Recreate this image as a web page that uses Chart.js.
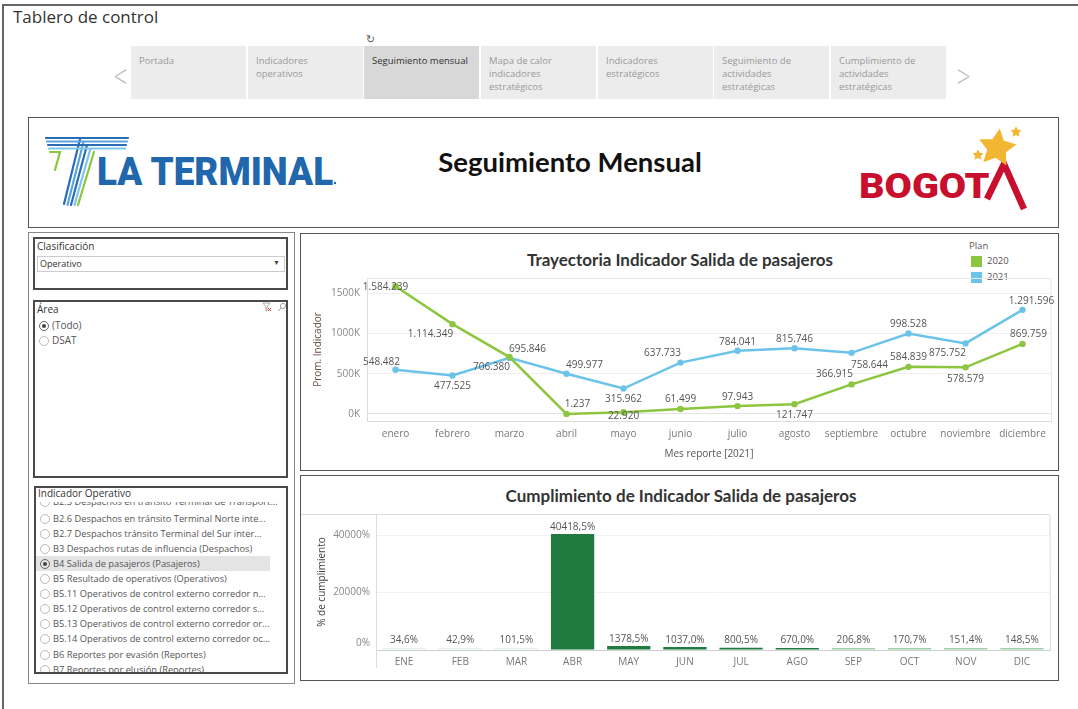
<!DOCTYPE html>
<html><head><meta charset="utf-8">
<script src="https://cdn.jsdelivr.net/npm/chart.js@4/dist/chart.umd.min.js"></script>
<style>
html,body{margin:0;padding:0;background:#fff;width:1078px;height:709px;overflow:hidden;font-family:"Open Sans",sans-serif;}
.abs{position:absolute;}
#frameTop{left:2px;top:4px;width:1076px;height:0;border-top:2px solid #666;}
#frameLeft{left:2px;top:4px;width:0;height:705px;border-left:2px solid #666;}
#pageTitle{left:13px;top:5px;font-size:17px;color:#333;}
.tab{position:absolute;top:46px;height:53px;width:115px;background:#ececec;font-size:9.5px;color:#9a9a9a;line-height:13px;box-sizing:border-box;padding:8px 0 0 8px;}
.tab.sel{background:#d8d8d8;color:#333;}
.arrow{position:absolute;top:58px;font-size:30px;color:#bbb;font-weight:100;font-family:"DejaVu Sans";transform:scaleX(0.6);}
.box{position:absolute;box-sizing:border-box;}
.lbl{position:absolute;font-size:10px;color:#333;white-space:nowrap;}
.item{position:absolute;left:0;height:15px;width:234px;font-size:9.3px;color:#555;white-space:nowrap;line-height:15px;}
.item .r{position:absolute;left:4px;top:3px;width:8px;height:8px;border:1px solid #bbb;border-radius:50%;}
.item .t{position:absolute;left:17px;top:0;}
.item.sel{background:#e4e4e4;}
.item.sel .r{border-color:#666;}
.item.sel .r::after{content:"";position:absolute;left:2px;top:2px;width:4px;height:4px;border-radius:50%;background:#444;}
.ctitle{position:absolute;font-family:Lato,sans-serif;font-weight:700;color:#333;white-space:nowrap;}
</style></head>
<body>
<div id="frameTop" class="abs"></div>
<div id="frameLeft" class="abs"></div>
<div id="pageTitle" class="abs">Tablero de control</div>
<div class="abs" style="left:366px;top:33px;font-size:11px;color:#666;font-family:'DejaVu Sans';">↻</div>

<div class="arrow" style="left:108px;">&lt;</div>
<div class="arrow" style="left:951px;">&gt;</div>
<div class="tab" style="left:131px;">Portada</div>
<div class="tab" style="left:248px;">Indicadores<br>operativos</div>
<div class="tab sel" style="left:364px;">Seguimiento mensual</div>
<div class="tab" style="left:481px;">Mapa de calor<br>indicadores<br>estratégicos</div>
<div class="tab" style="left:598px;">Indicadores<br>estratégicos</div>
<div class="tab" style="left:714px;">Seguimiento de<br>actividades<br>estratégicas</div>
<div class="tab" style="left:831px;">Cumplimiento de<br>actividades<br>estratégicas</div>

<!-- Header -->
<div class="box" style="left:28px;top:117px;width:1031px;height:111px;border:1px solid #555;"></div>
<svg class="abs" style="left:0;top:0;" width="1078" height="240">
  <g fill="none" stroke-width="2.2" stroke-linecap="round">
    <path d="M46 138 L128 138 M80 139 L64 204" stroke="#2a6db5"/>
    <path d="M47 141.5 L127 141.5 M83.5 142 L67.5 205" stroke="#5aa6dc"/>
    <path d="M48 145 L126 145 M87 145 L71 205" stroke="#2a6db5"/>
    <path d="M49 148.5 L125 148.5 M90.5 148.5 L74.5 205" stroke="#7cc6ea"/>
    <path d="M50 152 L60 152 L55 170 M94 152 L78 205" stroke="#8cc63f"/>
  </g>
  <text x="97" y="185" font-family="Roboto,sans-serif" font-weight="900" font-size="38" fill="#2067ad" transform="translate(97 0) scale(0.97 1) translate(-97 0)">LA TERMINAL</text>
  <circle cx="335" cy="183" r="1.2" fill="#2067ad"/>
  <text x="570" y="172" text-anchor="middle" font-family="Lato,sans-serif" font-weight="700" font-size="27.5" fill="#111">Seguimiento Mensual</text>
  <text x="859" y="198" font-family="Roboto,sans-serif" font-weight="900" font-size="36" fill="#c8102e" transform="translate(859 0) scale(1.1 1) translate(-859 0)">BOGOT</text>
  <path d="M987 199 L1004 164 L1024 209" fill="none" stroke="#c8102e" stroke-width="6.5" stroke-linejoin="miter"/>
  <path d="M0,-18 L5.3,-7.3 L17.1,-5.6 L8.6,2.8 L10.6,14.6 L0,9 L-10.6,14.6 L-8.6,2.8 L-17.1,-5.6 L-5.3,-7.3 Z" fill="#f2b633" transform="translate(997 148) rotate(8) scale(1.1)"/>
  <path d="M0,-18 L5.3,-7.3 L17.1,-5.6 L8.6,2.8 L10.6,14.6 L0,9 L-10.6,14.6 L-8.6,2.8 L-17.1,-5.6 L-5.3,-7.3 Z" fill="#f2b633" transform="translate(978 155) scale(0.32)"/>
  <path d="M0,-18 L5.3,-7.3 L17.1,-5.6 L8.6,2.8 L10.6,14.6 L0,9 L-10.6,14.6 L-8.6,2.8 L-17.1,-5.6 L-5.3,-7.3 Z" fill="#f2b633" transform="translate(1016 132) scale(0.32)"/>
</svg>

<!-- Left column -->
<div class="box" style="left:28px;top:232px;width:267px;height:452px;border:1px solid #888;"></div>
<div class="box" style="left:33px;top:237px;width:255px;height:53px;border:2px solid #4a4a4a;"></div>
<div class="lbl" style="left:37px;top:239px;">Clasificación</div>
<div class="box" style="left:37px;top:256px;width:248px;height:16px;border:1px solid #ccc;"></div>
<div class="lbl" style="left:40px;top:257px;font-size:9px;">Operativo</div>
<div class="lbl" style="left:273px;top:258px;font-size:7px;color:#444;">▼</div>

<div class="box" style="left:33px;top:300px;width:255px;height:178px;border:2px solid #4a4a4a;"></div>
<div class="lbl" style="left:37px;top:302px;">Área</div>
<svg class="abs" style="left:262px;top:302px;" width="26" height="10">
  <path d="M1 1 L8 1 L5 5 L5 9 L4 9 L4 5 Z" fill="none" stroke="#999" stroke-width="0.8"/>
  <path d="M6 6 L9 9 M9 6 L6 9" stroke="#d33" stroke-width="1"/>
  <circle cx="21" cy="4" r="2.6" fill="none" stroke="#999" stroke-width="0.9"/>
  <path d="M19 6 L16.5 9" stroke="#999" stroke-width="1"/>
</svg>
<div class="item sel" style="left:35px;top:318px;background:none;width:100px;"><span class="r"></span><span class="t" style="font-size:10px;">(Todo)</span></div>
<div class="item" style="left:35px;top:333px;width:100px;"><span class="r"></span><span class="t" style="font-size:10px;">DSAT</span></div>

<div class="box" style="left:34px;top:486px;width:254px;height:188px;border:2px solid #4a4a4a;"></div>
<div class="lbl" style="left:38px;top:486px;">Indicador Operativo</div>
<div class="box" style="left:36px;top:502px;width:250px;height:170px;overflow:hidden;">
  <div class="item" style="top:-8px;"><span class="r"></span><span class="t">B2.5 Despachos en tránsito Terminal de Transport...</span></div>
  <div class="item" style="top:9px;"><span class="r"></span><span class="t">B2.6 Despachos en tránsito Terminal Norte inte...</span></div>
  <div class="item" style="top:24px;"><span class="r"></span><span class="t">B2.7 Despachos tránsito Terminal del Sur inter...</span></div>
  <div class="item" style="top:39px;"><span class="r"></span><span class="t">B3 Despachos rutas de influencia (Despachos)</span></div>
  <div class="item sel" style="top:54px;"><span class="r"></span><span class="t">B4 Salida de pasajeros (Pasajeros)</span></div>
  <div class="item" style="top:69px;"><span class="r"></span><span class="t">B5 Resultado de operativos (Operativos)</span></div>
  <div class="item" style="top:84px;"><span class="r"></span><span class="t">B5.11 Operativos de control externo corredor n...</span></div>
  <div class="item" style="top:99px;"><span class="r"></span><span class="t">B5.12 Operativos de control externo corredor s...</span></div>
  <div class="item" style="top:114px;"><span class="r"></span><span class="t">B5.13 Operativos de control externo corredor or...</span></div>
  <div class="item" style="top:129px;"><span class="r"></span><span class="t">B5.14 Operativos de control externo corredor oc...</span></div>
  <div class="item" style="top:145px;"><span class="r"></span><span class="t">B6 Reportes por evasión (Reportes)</span></div>
  <div class="item" style="top:160px;"><span class="r"></span><span class="t">B7 Reportes por elusión (Reportes)</span></div>
</div>

<!-- Line chart panel -->
<div class="box" style="left:300px;top:233px;width:759px;height:238px;border:1px solid #555;"></div>
<div class="ctitle" style="left:680px;top:249px;font-size:17px;transform:translateX(-50%);">Trayectoria Indicador Salida de pasajeros</div>
<div class="lbl" style="left:969px;top:239px;font-size:9.5px;color:#555;">Plan</div>
<div class="abs" style="left:971px;top:256px;width:11px;height:11px;background:#8cc63f;"></div>
<div class="lbl" style="left:987px;top:254px;font-size:9.5px;color:#555;">2020</div>
<div class="abs" style="left:971px;top:272px;width:11px;height:11px;background:#6cc3ea;"></div>
<div class="lbl" style="left:987px;top:270px;font-size:9.5px;color:#555;">2021</div>
<canvas id="lineChart" class="abs" style="left:301px;top:234px;" width="756" height="236"></canvas>

<!-- Bar chart panel -->
<div class="box" style="left:300px;top:475px;width:759px;height:206px;border:1px solid #555;"></div>
<div class="ctitle" style="left:681px;top:485px;font-size:17px;transform:translateX(-50%);">Cumplimiento de Indicador Salida de pasajeros</div>
<canvas id="barChart" class="abs" style="left:301px;top:476px;" width="756" height="203"></canvas>

<script>
// ---------- DATA ----------
const months = ['enero','febrero','marzo','abril','mayo','junio','julio','agosto','septiembre','octubre','noviembre','diciembre'];
const plan2020 = [1584239, 1114349, 706380, 1237, 22920, 61499, 97943, 121747, 366915, 584839, 578579, 869759];
const plan2021 = [548482, 477525, 695846, 499977, 315962, 637733, 784041, 815746, 758644, 998528, 875752, 1291596];
const lineTicks = [0, 500000, 1000000, 1500000];

const monthsShort = ['ENE','FEB','MAR','ABR','MAY','JUN','JUL','AGO','SEP','OCT','NOV','DIC'];
const cumplimiento = [34.6, 42.9, 101.5, 40418.5, 1378.5, 1037.0, 800.5, 670.0, 206.8, 170.7, 151.4, 148.5];
const barTicks = [0, 20000, 40000];

// ---------- STYLE ----------
const GREEN = '#8cc63f', BLUE = '#6cc3ea';
// label offsets (dx, dy) relative to each point, per series
const labelOffset2020 = [[-10,1],[-22,10],[-18,10],[11,-10],[0,4],[0,-10],[0,-9],[0,11],[-17,-10],[0,-10],[0,12],[6,-10]];
const labelOffset2021 = [[-14,-8],[0,11],[18,-9],[18,-9],[0,11],[-18,-9],[0,-9],[0,-9],[18,12],[0,-9],[-18,10],[9,-9]];

function fmtThousands(v){ return String(Math.round(v)).replace(/\B(?=(\d{3})+(?!\d))/g,'.'); }
function fmtPct(v){ return v.toFixed(1).replace('.',',') + '%'; }
function barColor(v){ return v >= 600 ? '#217a3f' : (v >= 140 ? '#9dd0a8' : '#e8f3ea'); }

Chart.defaults.font.family = '"Open Sans", sans-serif';
Chart.defaults.font.size = 10;

const areaBorder = {
  id:'areaBorder',
  beforeDatasetsDraw(chart, args, opts){
    const {ctx, chartArea:a} = chart;
    ctx.save();
    ctx.strokeStyle = opts.color || '#e3e3e3';
    ctx.lineWidth = 1;
    ctx.beginPath();
    ctx.moveTo((opts.topFrom!=null?opts.topFrom:a.left), Math.round(a.top)+0.5);
    ctx.lineTo(a.right, Math.round(a.top)+0.5);
    ctx.lineTo(Math.round(a.right)+0.5, a.bottom);
    ctx.stroke();
    if (opts.extendLeft){
      ctx.beginPath();
      ctx.moveTo(Math.round(a.left)+0.5, a.top);
      ctx.lineTo(Math.round(a.left)+0.5, a.bottom + opts.extendLeft);
      ctx.stroke();
    }
    ctx.restore();
  }
};

const lineLabels = {
  id:'lineLabels',
  afterDatasetsDraw(chart){
    const {ctx} = chart;
    ctx.save();
    ctx.font = '10px "Open Sans", sans-serif';
    ctx.fillStyle = '#555';
    ctx.textAlign = 'center';
    ctx.textBaseline = 'middle';
    chart.data.datasets.forEach((ds, di) => {
      const meta = chart.getDatasetMeta(di);
      const offs = ds.labelOffsets;
      meta.data.forEach((pt, i) => {
        const o = offs[i];
        ctx.fillText(fmtThousands(ds.data[i]), pt.x + o[0], pt.y + o[1]);
      });
    });
    ctx.restore();
  }
};

const barLabels = {
  id:'barLabels',
  afterDatasetsDraw(chart){
    const {ctx} = chart;
    ctx.save();
    ctx.font = '10px "Open Sans", sans-serif';
    ctx.fillStyle = '#555';
    ctx.textAlign = 'center';
    ctx.textBaseline = 'middle';
    const ds = chart.data.datasets[0];
    chart.getDatasetMeta(0).data.forEach((bar, i) => {
      ctx.fillText(fmtPct(ds.data[i]), bar.x, Math.min(bar.y, bar.base - 2) - 7);
    });
    // bottom tick label is lifted inside the plot, as in the original
    const y = chart.scales.y;
    ctx.fillStyle = '#888';
    ctx.textAlign = 'right';
    ctx.fillText('0%', y.right - 6, y.getPixelForValue(0) - 7);
    ctx.restore();
  }
};

new Chart(document.getElementById('lineChart'), {
  type:'line',
  data:{
    labels: months,
    datasets:[
      {label:'2020', data: plan2020, borderColor:GREEN, backgroundColor:GREEN, borderWidth:2.5, pointRadius:3.2, pointBorderWidth:0, tension:0, labelOffsets: labelOffset2020, order:0},
      {label:'2021', data: plan2021, borderColor:BLUE, backgroundColor:BLUE, borderWidth:2.5, pointRadius:3.2, pointBorderWidth:0, tension:0, labelOffsets: labelOffset2021, order:1}
    ]
  },
  options:{
    responsive:false, animation:false, devicePixelRatio:1,
    layout:{padding:{left:0, right:6, top:44, bottom:0}},
    plugins:{legend:{display:false}, tooltip:{enabled:false}, areaBorder:{color:'#e8e8e8'}},
    scales:{
      x:{
        offset:true,
        grid:{display:false, drawTicks:false},
        border:{display:true, color:'#dcdcdc'},
        ticks:{padding:7, color:'#777', font:{size:10}, maxRotation:0, minRotation:0, autoSkip:false},
        title:{display:true, text:'Mes reporte [2021]', color:'#555', font:{size:10}, padding:{top:0, bottom:10}},
        afterFit(s){ s.height = 49; }
      },
      y:{
        min:-87000, max:1687000,
        afterBuildTicks(s){ s.ticks = lineTicks.map(v => ({value:v})); },
        grid:{color:(c)=> c.tick && c.tick.value === 0 ? '#e2e2e2' : '#efefef', drawTicks:false},
        border:{display:true, color:'#dcdcdc'},
        ticks:{padding:7, color:'#888', font:{size:10}, callback:(v)=> (v/1000) + 'K'},
        title:{display:true, text:'Prom. Indicador', color:'#6b4c44', font:{size:10}, padding:{top:11, bottom:0}},
        afterFit(s){ s.width = 66; }
      }
    }
  },
  plugins:[areaBorder, lineLabels]
});

new Chart(document.getElementById('barChart'), {
  type:'bar',
  data:{
    labels: monthsShort,
    datasets:[{label:'% de cumplimiento', data: cumplimiento, backgroundColor: cumplimiento.map(barColor), categoryPercentage:1, barPercentage:0.77, minBarLength:2}]
  },
  options:{
    responsive:false, animation:false, devicePixelRatio:1,
    layout:{padding:{left:0, right:7, top:38, bottom:0}},
    plugins:{legend:{display:false}, tooltip:{enabled:false}, areaBorder:{color:'#dcdcdc', topFrom:0, extendLeft:18}},
    scales:{
      x:{
        grid:{display:false, drawTicks:false},
        border:{display:true, color:'#d0d0d0'},
        ticks:{padding:6, color:'#777', font:{size:10}, maxRotation:0, minRotation:0, autoSkip:false},
        afterFit(s){ s.height = 29; }
      },
      y:{
        min:0, max:47400,
        afterBuildTicks(s){ s.ticks = barTicks.map(v => ({value:v})); },
        grid:{color:'#f2f2f2', drawTicks:false},
        border:{display:true, color:'#d0d0d0'},
        ticks:{padding:6, color:'#888', font:{size:10}, callback:(v)=> v === 0 ? '' : v + '%'},
        title:{display:true, text:'% de cumplimiento', color:'#444', font:{size:10}, padding:{top:15, bottom:0}},
        afterFit(s){ s.width = 75; }
      }
    }
  },
  plugins:[areaBorder, barLabels]
});
</script>
</body></html>
